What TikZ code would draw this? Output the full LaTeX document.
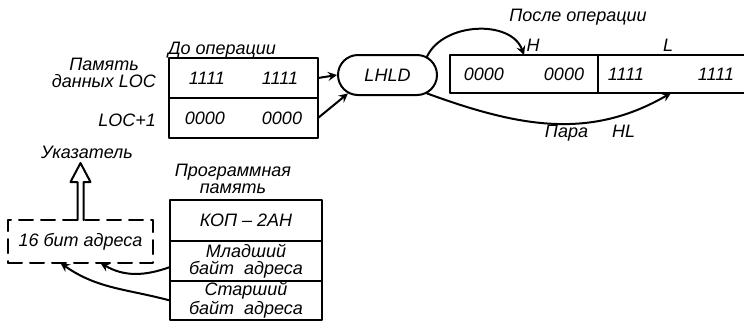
\documentclass[tikz,border=0pt]{standalone}
\usepackage{fontspec}
\setmainfont{Liberation Sans}
\usetikzlibrary{shapes.misc}
\begin{document}
\begin{tikzpicture}[x=0.5pt,y=-0.5pt,>=stealth,line join=round,line cap=round,line width=1pt,
		font=\itshape\fontsize{9}{8.5}\selectfont,
		cell/.style={draw,inner sep=0pt,outer sep=0pt},
		lbl/.style={align=center,inner sep=0pt}]
		\useasboundingbox (0,0) rectangle (744,323);
		% before
		\node[lbl] (before) at (222,50) {До операции};
		\node[lbl] (mem) at (104,73) {Память\\данных LOC};
		\node[lbl,anchor=east] (locn) at (157,120) {LOC+1};
		\node[cell,minimum width=74.5pt,minimum height=20pt] (loc) at (243.5,78) {1111\hspace{18.5pt}1111\hspace{5pt}};
		\node[cell,minimum width=74.5pt,minimum height=20pt] (locb) at (243.5,118) {0000\hspace{18.5pt}0000\hspace{5pt}};
		\node[draw,rounded rectangle,minimum width=49.5pt,minimum height=20pt,inner sep=0pt] (lhld) at (387.5,75) {LHLD};
		% after
		\node[lbl] (after) at (578,17) {После операции};
		\node[lbl] (hlbl) at (533,45) {H};
		\node[lbl] (llbl) at (668,45) {L};
		\node[cell,minimum width=74pt,minimum height=19pt] (regh) at (524,74) {0000\hspace{20pt}0000\hspace{9pt}};
		\node[inner sep=0pt,outer sep=0pt,minimum width=73pt,minimum height=19pt] (regl) at (671,74) {1111\hspace{27pt}1111\hspace{4pt}};
		\draw (regl.north east) -- (regl.north west) -- (regl.south west) -- (regl.south east);
		\node[lbl] (pair) at (590,133) {Пара\hspace{12pt}HL};
		\draw[->] (loc.east) -- (lhld.west);
		\draw[->] (locb.east) -- (lhld.205);
		\draw[->] (lhld.25) to[out=65,in=110] (regh.north);
		\draw[->] (lhld.-25) to[out=-20,in=210] (regl.south);
		% pointer
		\node[lbl] (ptrl) at (87,152) {Указатель};
		\node[cell,dash pattern=on 7pt off 4pt,minimum width=72.5pt,minimum height=21.5pt] (ptr) at (80.5,241.5) {16 бит адреса};
		\draw (ptr.north) ++(-3,0) -- ++(0,-38) -- ++(-7,0) -- ++(10,-19) -- ++(10,19) -- ++(-7,0) -- ++(0,38);
		% program memory
		\node[lbl] (prog) at (233,179) {Программная\\память};
		\node[cell,minimum width=76pt,minimum height=20.5pt] (kop) at (246,220.5) {КОП -- 2АН};
		\node[cell,minimum width=76pt,minimum height=20pt,align=center] (lo) at (246,261) {Младший\\байт~~адреса};
		\node[cell,minimum width=76pt,minimum height=19.5pt,align=center] (hi) at (246,300.5) {Старший\\байт~~адреса};
		\draw[->] ([yshift=-3pt]lo.west) to[out=200,in=-30] ([xshift=10pt]ptr.south);
		\draw[->] (hi.west) to[out=165,in=-35] ([xshift=-10pt]ptr.south);
\end{tikzpicture}
\end{document}
